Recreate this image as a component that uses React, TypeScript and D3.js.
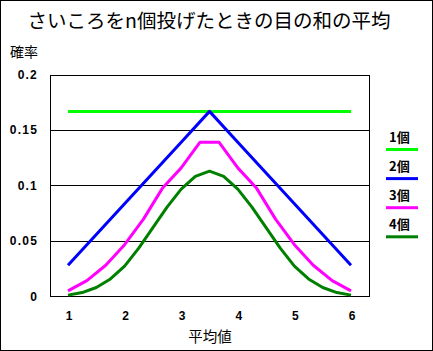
import React, { useEffect, useRef } from 'react';
import * as d3 from 'd3';

// mean of the dice faces (x) and probability (y) for each n
const mean1 = [1, 2, 3, 4, 5, 6];
const prob1 = [0.1667, 0.1667, 0.1667, 0.1667, 0.1667, 0.1667];

const mean2 = [1, 1.5, 2, 2.5, 3, 3.5, 4, 4.5, 5, 5.5, 6];
const prob2 = [0.0278, 0.0556, 0.0833, 0.1111, 0.1389, 0.1667, 0.1389, 0.1111, 0.0833, 0.0556, 0.0278];

const mean3 = [1, 1.333, 1.667, 2, 2.333, 2.667, 3, 3.333, 3.667, 4, 4.333, 4.667, 5, 5.333, 5.667, 6];
const prob3 = [0.0046, 0.0139, 0.0278, 0.0463, 0.0694, 0.0972, 0.1157, 0.1389, 0.1389, 0.1157, 0.0972, 0.0694, 0.0463, 0.0278, 0.0139, 0.0046];

const mean4 = [1, 1.25, 1.5, 1.75, 2, 2.25, 2.5, 2.75, 3, 3.25, 3.5, 3.75, 4, 4.25, 4.5, 4.75, 5, 5.25, 5.5, 5.75, 6];
const prob4 = [0.0008, 0.0031, 0.0077, 0.0154, 0.027, 0.0432, 0.0617, 0.0802, 0.0965, 0.108, 0.1127, 0.108, 0.0965, 0.0802, 0.0617, 0.0432, 0.027, 0.0154, 0.0077, 0.0031, 0.0008];

const seriesLabels = ['1個', '2個', '3個', '4個'];
const seriesColors = ['#00ff00', '#0000ff', '#ff00ff', '#008000'];
const xTicks = [1, 2, 3, 4, 5, 6];
const yTicks = [0, 0.05, 0.1, 0.15, 0.2];

const W = 433;
const H = 351;
const JP = '"Noto Sans CJK JP", "Noto Sans", sans-serif';
const NUM = '"Liberation Sans", Arial, sans-serif';

function DiceMeanChart() {
  const svgRef = useRef<SVGSVGElement | null>(null);

  useEffect(() => {
    if (!svgRef.current) return;
    const svg = d3.select(svgRef.current);
    svg.selectAll('*').remove();

    const plot = { left: 50, right: 369, top: 74.5, bottom: 296 };
    const xPad = 18;
    const x = d3.scaleLinear().domain([1, 6]).range([plot.left + xPad, plot.right - xPad]);
    const y = d3.scaleLinear().domain([0, 0.2]).range([plot.bottom, plot.top]);

    svg.append('rect').attr('width', W).attr('height', H).attr('fill', '#fff');
    svg.append('rect')
      .attr('x', 0.5).attr('y', 0.5)
      .attr('width', W - 1).attr('height', H - 1)
      .attr('fill', 'none').attr('stroke', '#000');

    svg.append('text')
      .attr('x', 209).attr('y', 28)
      .attr('text-anchor', 'middle')
      .attr('font-family', JP)
      .attr('font-size', 19.5)
      .text('さいころをn個投げたときの目の和の平均');

    svg.append('text')
      .attr('x', 10).attr('y', 57)
      .attr('font-family', JP)
      .attr('font-size', 14)
      .text('確率');

    // gridlines + y labels
    yTicks.forEach(t => {
      svg.append('line')
        .attr('x1', plot.left).attr('x2', plot.right)
        .attr('y1', Math.round(y(t)) + 0.5).attr('y2', Math.round(y(t)) + 0.5)
        .attr('stroke', '#000');
      svg.append('text')
        .attr('x', 38).attr('y', y(t) + 4.5)
        .attr('text-anchor', 'end')
        .attr('font-family', NUM)
        .attr('font-size', 12)
        .attr('font-weight', 'bold')
        .attr('letter-spacing', 1.2)
        .text(String(t));
    });

    svg.append('rect')
      .attr('x', plot.left + 0.5).attr('y', Math.round(plot.top) + 0.5)
      .attr('width', plot.right - plot.left).attr('height', Math.round(plot.bottom) - Math.round(plot.top))
      .attr('fill', 'none').attr('stroke', '#000');

    xTicks.forEach(t => {
      svg.append('text')
        .attr('x', x(t) + 1).attr('y', 320)
        .attr('text-anchor', 'middle')
        .attr('font-family', NUM)
        .attr('font-size', 12)
        .attr('font-weight', 'bold')
        .text(String(t));
    });

    svg.append('text')
      .attr('x', 210).attr('y', 342)
      .attr('text-anchor', 'middle')
      .attr('font-family', JP)
      .attr('font-size', 14.5)
      .text('平均値');

    const series = [
      { xs: mean1, ys: prob1 },
      { xs: mean2, ys: prob2 },
      { xs: mean3, ys: prob3 },
      { xs: mean4, ys: prob4 },
    ];

    const line = d3.line<[number, number]>()
      .x(d => x(d[0]))
      .y(d => y(d[1]));

    series.forEach((s, idx) => {
      const pts = s.xs.map((v, i) => [v, s.ys[i]] as [number, number]);
      svg.append('path')
        .datum(pts)
        .attr('fill', 'none')
        .attr('stroke', seriesColors[idx])
        .attr('stroke-width', 3)
        .attr('stroke-linejoin', 'round')
        .attr('d', line);
    });

    // legend
    seriesLabels.forEach((label, idx) => {
      const ly = 149.5 + idx * 29.1;
      svg.append('text')
        .attr('x', 389).attr('y', ly - 8)
        .attr('font-family', JP)
        .attr('font-size', 13)
        .attr('font-weight', 'bold')
        .text(label);
      svg.append('line')
        .attr('x1', 386).attr('x2', 418)
        .attr('y1', ly).attr('y2', ly)
        .attr('stroke', seriesColors[idx])
        .attr('stroke-width', 3);
    });
  }, []);

  return (
    <svg
      ref={svgRef}
      width={W}
      height={H}
      style={{ position: 'absolute', left: 0, top: 0, display: 'block' }}
    />
  );
}

export default function App() {
  return <DiceMeanChart />;
}
